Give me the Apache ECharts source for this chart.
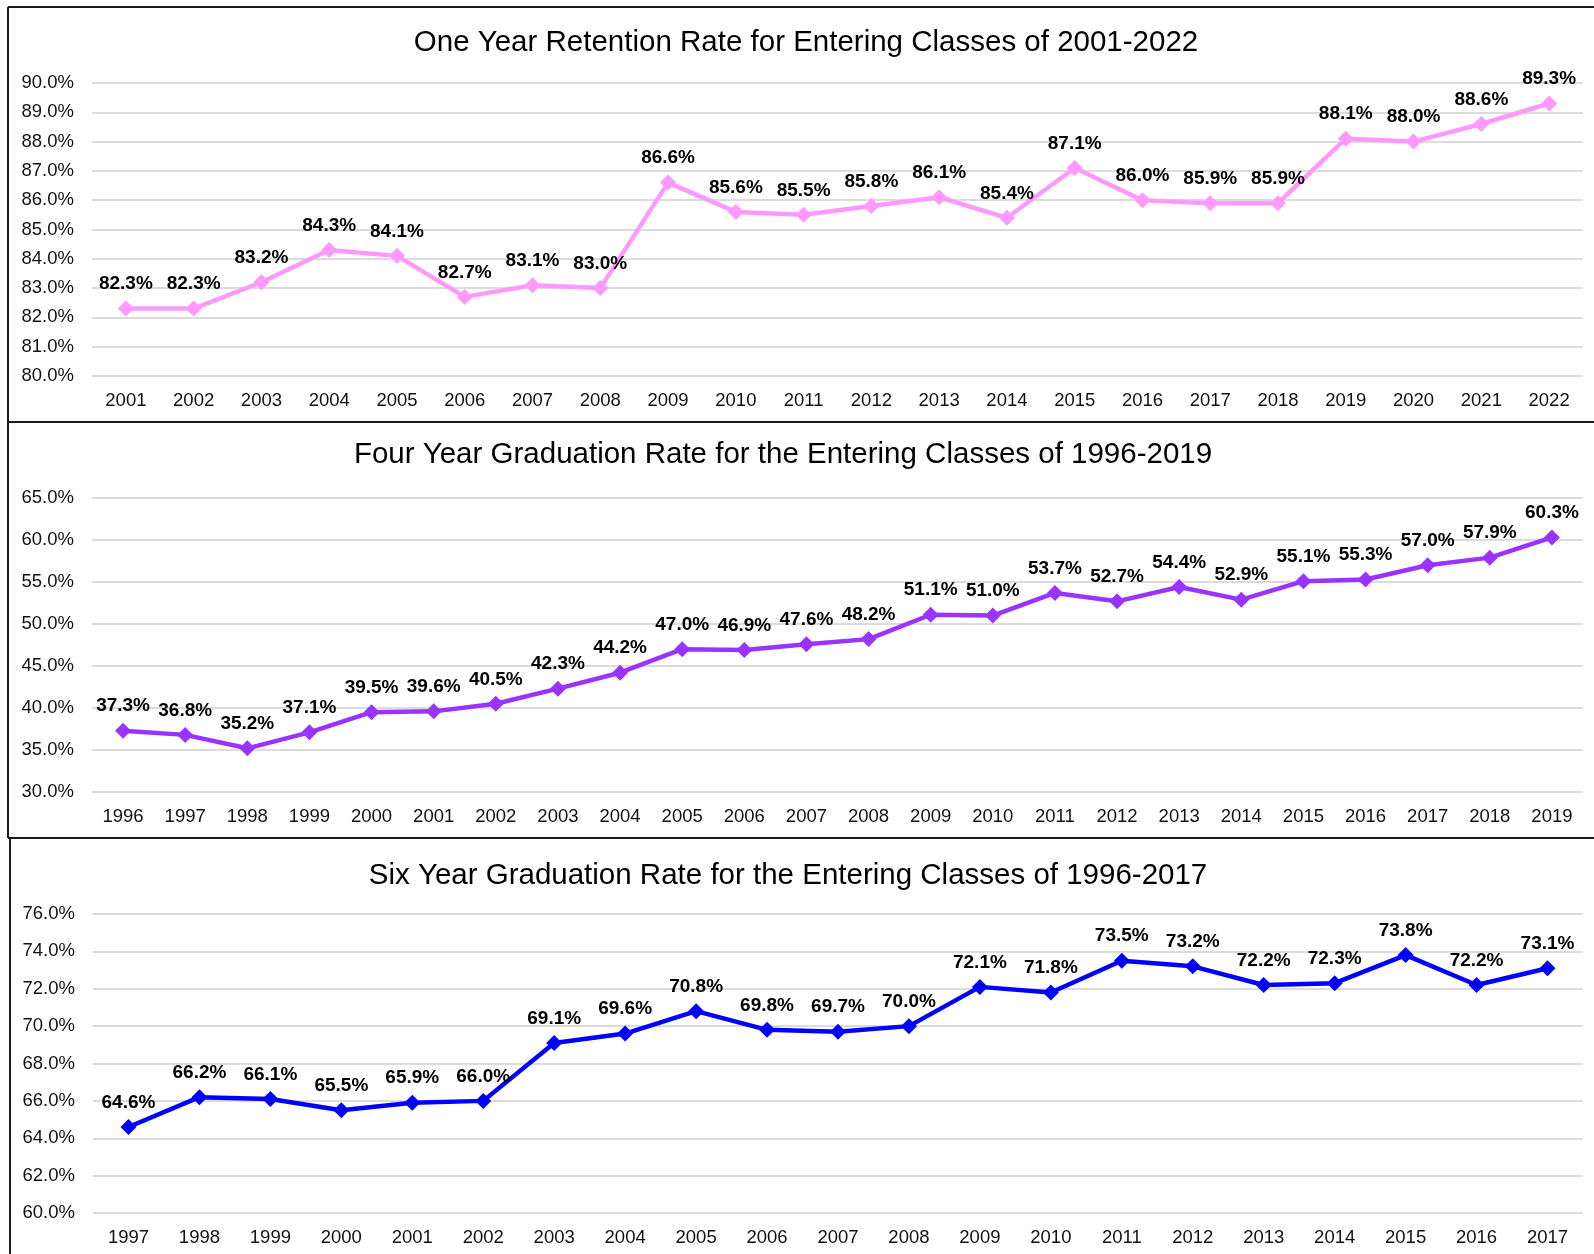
<!DOCTYPE html>
<html>
<head>
<meta charset="utf-8">
<script src="https://cdn.jsdelivr.net/npm/echarts@6/dist/echarts.min.js"></script>
<style>
html,body{margin:0;padding:0;background:#fff;}
#chart{width:1594px;height:1254px;}
</style>
</head>
<body>
<div id="chart"></div>
<script>
const retentionYears = ['2001','2002','2003','2004','2005','2006','2007','2008','2009','2010','2011','2012','2013','2014','2015','2016','2017','2018','2019','2020','2021','2022'];
const retentionValues = [82.3,82.3,83.2,84.3,84.1,82.7,83.1,83.0,86.6,85.6,85.5,85.8,86.1,85.4,87.1,86.0,85.9,85.9,88.1,88.0,88.6,89.3];

const fourYearYears = ['1996','1997','1998','1999','2000','2001','2002','2003','2004','2005','2006','2007','2008','2009','2010','2011','2012','2013','2014','2015','2016','2017','2018','2019'];
const fourYearValues = [37.3,36.8,35.2,37.1,39.5,39.6,40.5,42.3,44.2,47.0,46.9,47.6,48.2,51.1,51.0,53.7,52.7,54.4,52.9,55.1,55.3,57.0,57.9,60.3];

const sixYearYears = ['1997','1998','1999','2000','2001','2002','2003','2004','2005','2006','2007','2008','2009','2010','2011','2012','2013','2014','2015','2016','2017'];
const sixYearValues = [64.6,66.2,66.1,65.5,65.9,66.0,69.1,69.6,70.8,69.8,69.7,70.0,72.1,71.8,73.5,73.2,72.2,72.3,73.8,72.2,73.1];

const titles = [
  'One Year Retention Rate for Entering Classes of 2001-2022',
  'Four Year Graduation Rate for the Entering Classes of 1996-2019',
  'Six Year Graduation Rate for the Entering Classes of 1996-2017'
];
const yRanges = [[80, 90, 1], [30, 65, 5], [60, 76, 2]];
const colors = ['#ff99ff', '#9933ff', '#0000ff'];

const FONT = '"Liberation Sans", Arial, sans-serif';
const chart = echarts.init(document.getElementById('chart'));

const grids = [
  {left: 92, right: 11, top: 83, height: 293},
  {left: 92, right: 11, top: 498, height: 294},
  {left: 93, right: 11, top: 914, height: 299}
];
const cats = [retentionYears, fourYearYears, sixYearYears];
const vals = [retentionValues, fourYearValues, sixYearValues];
const titlePos = [[806, 43], [783, 455], [788, 876]];

const xAxis = cats.map((c, i) => ({
  type: 'category', gridIndex: i, data: c, boundaryGap: true,
  axisLine: {show: false}, axisTick: {show: false},
  axisLabel: {color: '#111', fontSize: 18.5, fontFamily: FONT, margin: 15, interval: 0}
}));
const yAxis = yRanges.map((r, i) => ({
  type: 'value', gridIndex: i, min: r[0], max: r[1], interval: r[2],
  axisLine: {show: false}, axisTick: {show: false},
  axisLabel: {color: '#111', fontSize: 18.5, fontFamily: FONT, margin: 18,
    formatter: v => v.toFixed(1) + '%'},
  splitLine: {lineStyle: {color: '#dcdcdc', width: 2}}
}));
const series = vals.map((v, i) => ({
  type: 'line', xAxisIndex: i, yAxisIndex: i, data: v,
  symbol: 'diamond', symbolSize: 16,
  lineStyle: {color: colors[i], width: 4.5},
  itemStyle: {color: colors[i]},
  label: {show: true, position: 'top', distance: 7, color: '#000', fontSize: 19,
    fontWeight: 'bold', fontFamily: FONT, formatter: p => p.value.toFixed(1) + '%'},
  animation: false
}));

const graphic = [];
titles.forEach((t, i) => {
  graphic.push({type: 'text', x: titlePos[i][0], y: titlePos[i][1],
    style: {text: t, fontSize: 29.5, fontFamily: FONT, fill: '#000',
      textAlign: 'center', textVerticalAlign: 'middle'}});
});
const borderStyle = {stroke: '#1a1a1a', lineWidth: 2};
graphic.push({type: 'line', shape: {x1: 8, y1: 7, x2: 1594, y2: 7}, style: borderStyle});
graphic.push({type: 'line', shape: {x1: 8, y1: 7, x2: 8, y2: 838}, style: borderStyle});
graphic.push({type: 'line', shape: {x1: 8, y1: 422, x2: 1594, y2: 422}, style: borderStyle});
graphic.push({type: 'line', shape: {x1: 8, y1: 838, x2: 1594, y2: 838}, style: borderStyle});
graphic.push({type: 'line', shape: {x1: 10, y1: 838, x2: 10, y2: 1254}, style: borderStyle});

chart.setOption({
  animation: false,
  backgroundColor: '#fff',
  grid: grids,
  xAxis: xAxis,
  yAxis: yAxis,
  series: series,
  graphic: graphic
});
</script>
</body>
</html>
